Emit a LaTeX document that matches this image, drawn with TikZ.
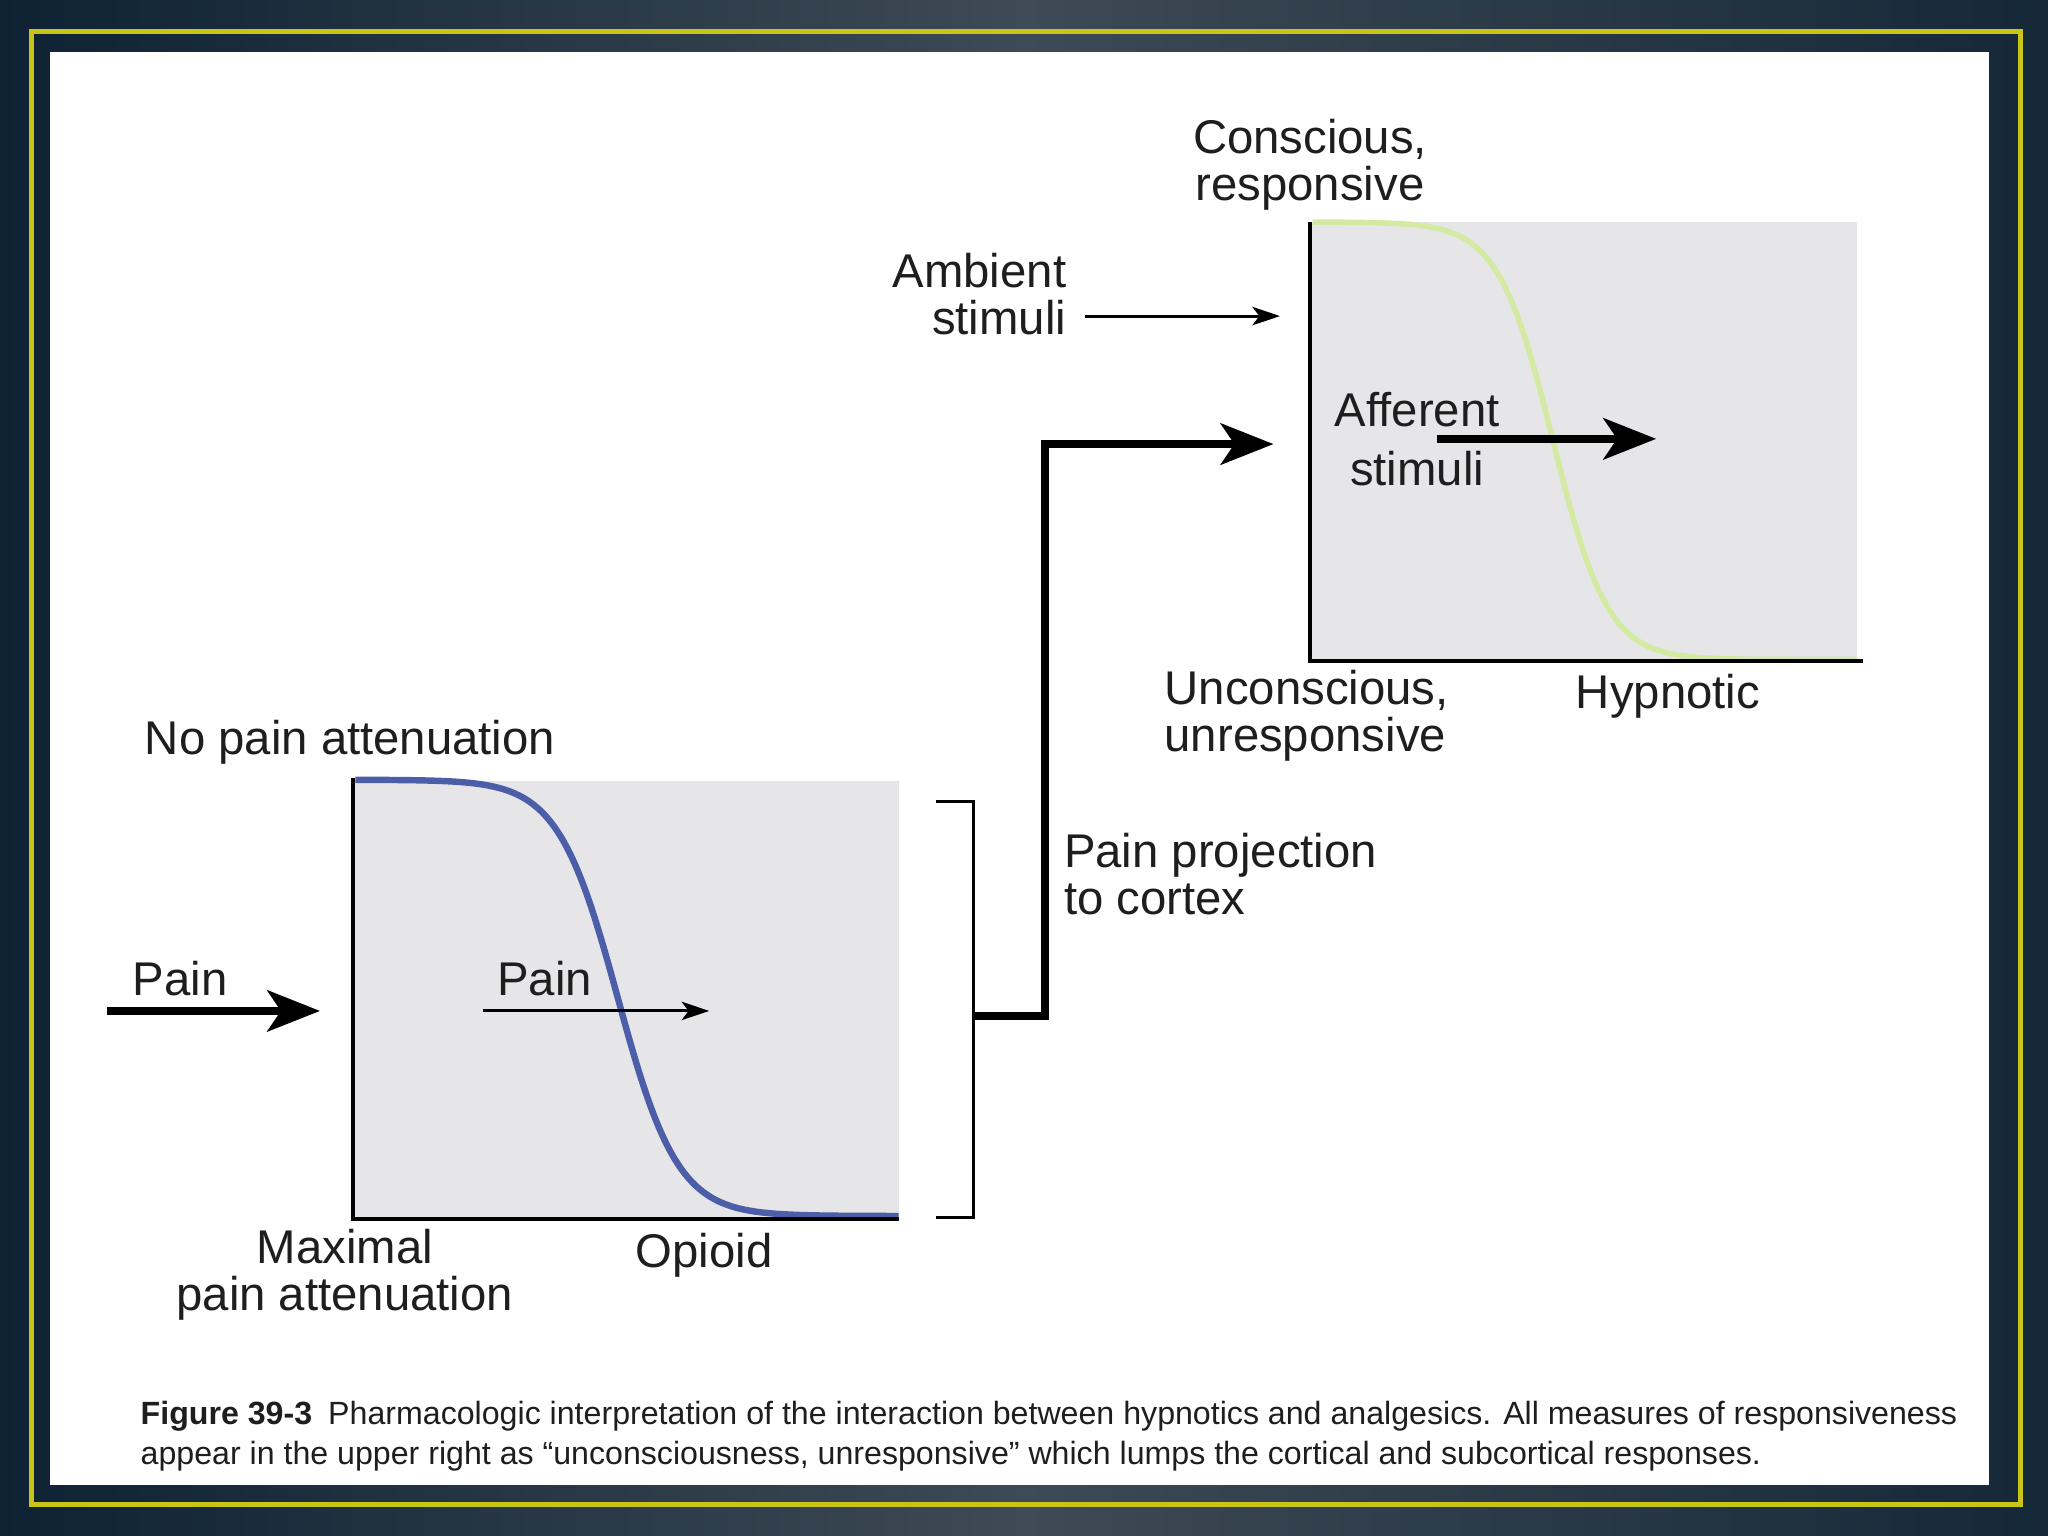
\documentclass[tikz,border=0pt]{standalone}
\usepackage{fontspec}
\setmainfont{Liberation Sans}
\usepackage{graphicx}
\usetikzlibrary{arrows.meta}
\definecolor{bgdark}{HTML}{0E2233}
\definecolor{bglight}{HTML}{3E4A55}
\definecolor{frameyellow}{RGB}{200,196,24}
\definecolor{panelgray}{HTML}{E6E6E8}
\definecolor{curveblue}{RGB}{76,94,168}
\definecolor{curvegreen}{RGB}{212,233,162}
\definecolor{inkgray}{HTML}{1E1E1E}
\begin{document}
\begin{tikzpicture}[x=0.01cm,y=-0.01cm,
  lbl/.style={font=\fontsize{10.3}{10.3}\selectfont, text=inkgray, inner sep=0pt},
  caplbl/.style={font=\fontsize{7}{8}\selectfont, text=inkgray, inner sep=0pt, anchor=west},
  axisline/.style={line width=0.9pt, black},
  thinarrow/.style={line width=0.65pt, -{Stealth[length=6pt,width=4pt,inset=1.5pt]}},
  thickarrow/.style={line width=1.6pt, miter limit=10, -{Stealth[length=11.5pt,width=9pt,inset=3pt]}},
  bracketline/.style={line width=0.65pt, black}]
\useasboundingbox (0,0) rectangle (1568,1176);
% background and frame
\shade[left color=bgdark, right color=bgdark!85!bglight, middle color=bglight] (0,0) rectangle (1568,1176);
\draw[frameyellow, line width=1pt] (24,24) rectangle (1547,1152);
\fill[white] (38,40) rectangle (1523,1137);

% ---------- upper right graph ----------
\fill[panelgray] (1003,170) rectangle (1422,506);
\draw[curvegreen, line width=1.2pt] plot[domain=1005:1422, samples=160, smooth] (\x, {170+335/(1+exp(-(\x-1189)/21))});
\draw[axisline] (1003,170) -- (1003,506) -- (1426,506);

\node[lbl, align=center] (conscious) at (1003,126) {Conscious,\\responsive};
\node[lbl, align=right, anchor=east] (ambient) at (817,225) {Ambient\\stimuli};
\node[lbl, align=center] (afferent) at (1085,336) {Afferent\\[2.6pt]stimuli};
\node[lbl, align=left, anchor=west] (unconscious) at (891,548) {Unconscious,\\unresponsive};
\node[lbl] (hypnotic) at (1277,533) {Hypnotic};

\coordinate (ambstart) at (831,242);
\coordinate (ambend) at (980,242);
\draw[thinarrow] (ambstart) -- (ambend);
\coordinate (affstart) at (1100,336);
\coordinate (affend) at (1268,336);
\draw[thickarrow] (affstart) -- (affend);

% ---------- lower left graph ----------
\fill[panelgray] (270,598) rectangle (688,933);
\draw[curveblue, line width=1.4pt] plot[domain=272:688, samples=160, smooth] (\x, {597+334/(1+exp(-(\x-473)/23))});
\draw[axisline] (270,596) -- (270,933) -- (688,933);

\node[lbl] (nopain) at (268,568) {No pain attenuation};
\node[lbl] (painout) at (138,749) {Pain};
\node[lbl] (painin) at (417,749) {Pain};
\node[lbl, align=center] (maximal) at (264,976) {Maximal\\pain attenuation};
\node[lbl] (opioid) at (539,961) {Opioid};
\node[lbl, align=left, anchor=west] (painproj) at (814,669) {Pain projection\\to cortex};

\coordinate (pstart) at (82,774);
\coordinate (pend) at (245,774);
\draw[thickarrow] (pstart) -- (pend);
\coordinate (pistart) at (370,774);
\coordinate (piend) at (543,774);
\draw[thinarrow] (pistart) -- (piend);

% bracket and projection
\coordinate (brtop) at (717,614);
\coordinate (brbot) at (717,932);
\coordinate (brmid) at (745,778);
\draw[bracketline] (brtop) -- (745,614) -- (745,932) -- (brbot);
\coordinate (projend) at (975,340);
\draw[thickarrow] (brmid) -- (800,778) -- (800,340) -- (projend);

% caption
\node[caplbl] (cap1) at (107,1084) {\resizebox{13.9cm}{\height}{\textbf{Figure 39-3}\enspace Pharmacologic interpretation of the interaction between hypnotics and analgesics. All measures of responsiveness}};
\node[caplbl] (cap2) at (107,1115) {\resizebox{12.4cm}{\height}{appear in the upper right as “unconsciousness, unresponsive” which lumps the cortical and subcortical responses.}};
\end{tikzpicture}
\end{document}
